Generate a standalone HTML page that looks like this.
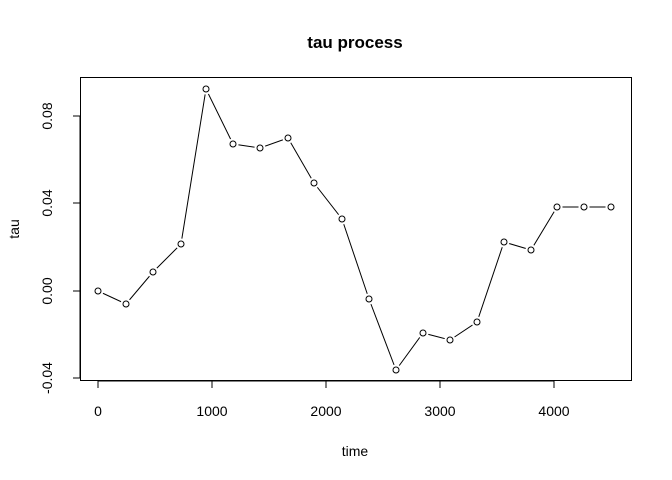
<!DOCTYPE html>
<html><head><meta charset="utf-8"><style>
html,body{margin:0;padding:0;background:#fff;}
svg{display:block;font-family:"Liberation Sans",Arial,sans-serif;}
</style></head><body>
<svg width="672" height="480" viewBox="0 0 672 480" xmlns="http://www.w3.org/2000/svg">
<defs>
<mask id="m">
<rect x="0" y="0" width="672" height="480" fill="#fff"/>
<g fill="#000">
<circle cx="98" cy="291" r="5.5"/><circle cx="126" cy="304" r="5.5"/><circle cx="153" cy="272" r="5.5"/><circle cx="181" cy="244" r="5.5"/><circle cx="206" cy="89" r="5.5"/><circle cx="233" cy="144" r="5.5"/><circle cx="260" cy="148" r="5.5"/><circle cx="288" cy="138" r="5.5"/><circle cx="314" cy="183" r="5.5"/><circle cx="342" cy="219" r="5.5"/><circle cx="369" cy="299" r="5.5"/><circle cx="396" cy="370" r="5.5"/><circle cx="423" cy="333" r="5.5"/><circle cx="450" cy="340" r="5.5"/><circle cx="477" cy="322" r="5.5"/><circle cx="504" cy="242" r="5.5"/><circle cx="531" cy="250" r="5.5"/><circle cx="557" cy="207" r="5.5"/><circle cx="584" cy="207" r="5.5"/><circle cx="611" cy="207" r="5.5"/>
</g>
</mask>
</defs>
<rect x="80.5" y="77.5" width="551" height="303" fill="none" stroke="#000" stroke-width="1"/>
<text x="355" y="48" text-anchor="middle" font-size="17" font-weight="bold">tau process</text>
<text x="355" y="456" text-anchor="middle" font-size="14">time</text>
<text transform="translate(19,229) rotate(-90)" text-anchor="middle" font-size="14">tau</text>
<g stroke="#000" stroke-width="1">
<line x1="98" y1="381" x2="554" y2="381"/>
<line x1="98" y1="381" x2="98" y2="388"/>
<line x1="212" y1="381" x2="212" y2="388"/>
<line x1="326" y1="381" x2="326" y2="388"/>
<line x1="440" y1="381" x2="440" y2="388"/>
<line x1="554" y1="381" x2="554" y2="388"/>
<line x1="80" y1="116" x2="80" y2="378"/>
<line x1="80" y1="116" x2="73" y2="116"/>
<line x1="80" y1="203" x2="73" y2="203"/>
<line x1="80" y1="291" x2="73" y2="291"/>
<line x1="80" y1="378" x2="73" y2="378"/>
</g>
<g font-size="14" text-anchor="middle">
<text x="98" y="416">0</text>
<text x="212" y="416">1000</text>
<text x="326" y="416">2000</text>
<text x="440" y="416">3000</text>
<text x="554" y="416">4000</text>
<text transform="translate(52,116) rotate(-90)">0.08</text>
<text transform="translate(52,203) rotate(-90)">0.04</text>
<text transform="translate(52,291) rotate(-90)">0.00</text>
<text transform="translate(52,378) rotate(-90)">-0.04</text>
</g>
<polyline fill="none" stroke="#000" stroke-width="1" mask="url(#m)" points="98,291 126,304 153,272 181,244 206,89 233,144 260,148 288,138 314,183 342,219 369,299 396,370 423,333 450,340 477,322 504,242 531,250 557,207 584,207 611,207"/>
<g fill="none" stroke="#000" stroke-width="1">
<circle cx="98" cy="291" r="3"/><circle cx="126" cy="304" r="3"/><circle cx="153" cy="272" r="3"/><circle cx="181" cy="244" r="3"/><circle cx="206" cy="89" r="3"/><circle cx="233" cy="144" r="3"/><circle cx="260" cy="148" r="3"/><circle cx="288" cy="138" r="3"/><circle cx="314" cy="183" r="3"/><circle cx="342" cy="219" r="3"/><circle cx="369" cy="299" r="3"/><circle cx="396" cy="370" r="3"/><circle cx="423" cy="333" r="3"/><circle cx="450" cy="340" r="3"/><circle cx="477" cy="322" r="3"/><circle cx="504" cy="242" r="3"/><circle cx="531" cy="250" r="3"/><circle cx="557" cy="207" r="3"/><circle cx="584" cy="207" r="3"/><circle cx="611" cy="207" r="3"/>
</g>
</svg>
</body></html>
